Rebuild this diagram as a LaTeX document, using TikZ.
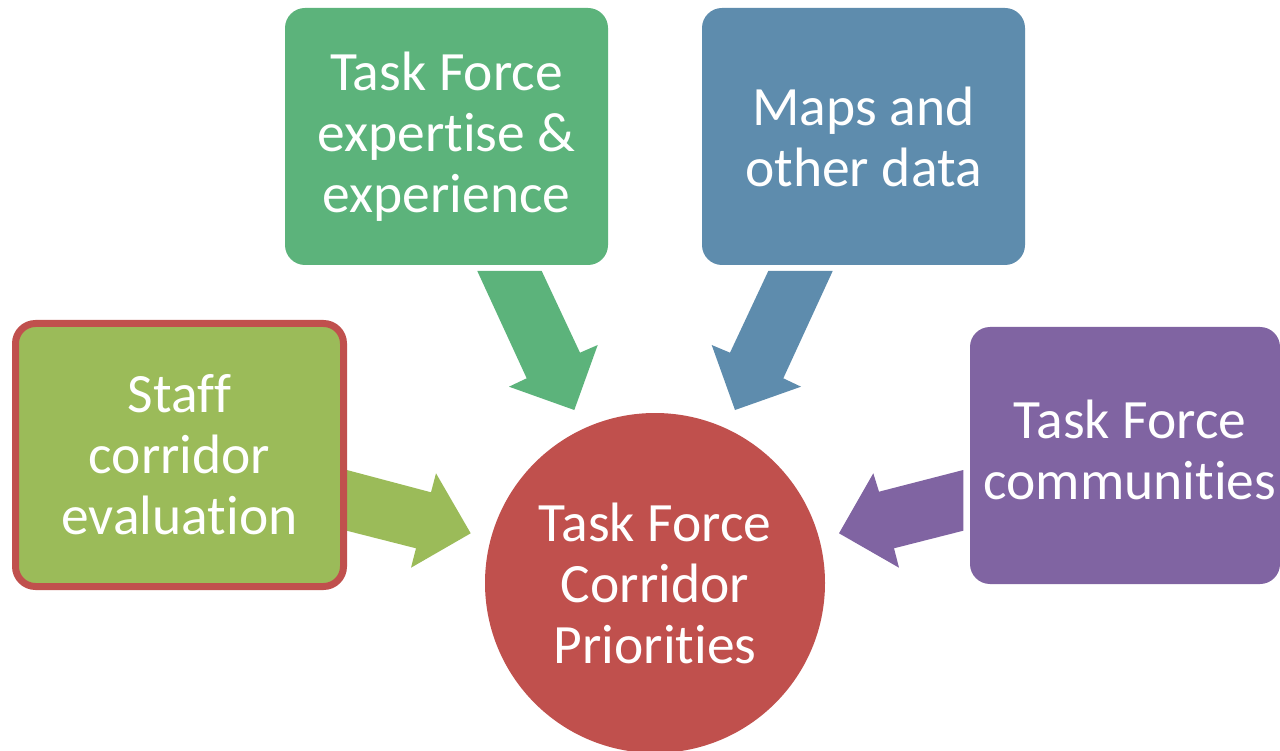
\documentclass[tikz,border=0pt]{standalone}
\usepackage{fontspec}
\setmainfont{Carlito}[Ligatures={NoCommon}]
\definecolor{tfgreen}{HTML}{5CB37B}
\definecolor{tfblue}{HTML}{5E8CAD}
\definecolor{tfolive}{HTML}{9BBB59}
\definecolor{tfred}{HTML}{C0504D}
\definecolor{tfpurple}{HTML}{8064A2}
\begin{document}
\begin{tikzpicture}[x=1pt,y=-1pt,
  boxstyle/.style={rectangle, rounded corners=20pt, inner sep=0pt, text=white, align=center,
    font=\fontsize{55.5}{61}\selectfont},
  labelstyle/.style={text=white, align=center, inner sep=0pt, font=\fontsize{55.5}{61}\selectfont}]
\useasboundingbox (0,0) rectangle (1280,751);
\clip (0,0) rectangle (1280,751);
\fill[white] (0,0) rectangle (1280,751);

% block arrows
\fill[tfgreen] (477.3,271) -- (541.7,271) -- (580,352.7) -- (597.7,345) -- (574.3,410) -- (509,386.7) -- (526.7,378.3) -- cycle;
\fill[tfblue] (768.3,271) -- (832.7,271) -- (783.3,378.3) -- (801,386.7) -- (735,410) -- (711.7,345) -- (730,352.7) -- cycle;
\fill[tfolive] (340,468.2) -- (431,492.3) -- (436,473.3) -- (470.7,533.3) -- (411,567.7) -- (416,548.3) -- (340,529) -- cycle;
\fill[tfpurple] (963.3,470) -- (879,491.7) -- (873.3,473.3) -- (839,533.3) -- (899,567.7) -- (894,548.3) -- (963.3,530.7) -- cycle;

% boxes
\node[boxstyle, fill=tfgreen, minimum width=323, minimum height=257] (expert) at (446.5,136.5) {Task Force\\expertise \&\\experience};
\node[boxstyle, fill=tfblue, minimum width=323, minimum height=257] (maps) at (863.5,136.5) {Maps and\\other data};
\node[boxstyle, fill=tfolive, draw=tfred, line width=7pt, minimum width=328, minimum height=263] (staff) at (179.5,455) {Staff\\corridor\\evaluation};
\node[boxstyle, fill=tfpurple, minimum width=310, minimum height=257] (comm) at (1125,455.5) {};
\node[labelstyle] (commtext) at (1130,450) {Task Force\\communities};

% centre circle
\node[circle, fill=tfred, minimum size=340, inner sep=0pt, text=white, align=center,
  font=\fontsize{55.5}{61}\selectfont] (prio) at (655,583) {Task Force\\Corridor\\Priorities};
\end{tikzpicture}
\end{document}
